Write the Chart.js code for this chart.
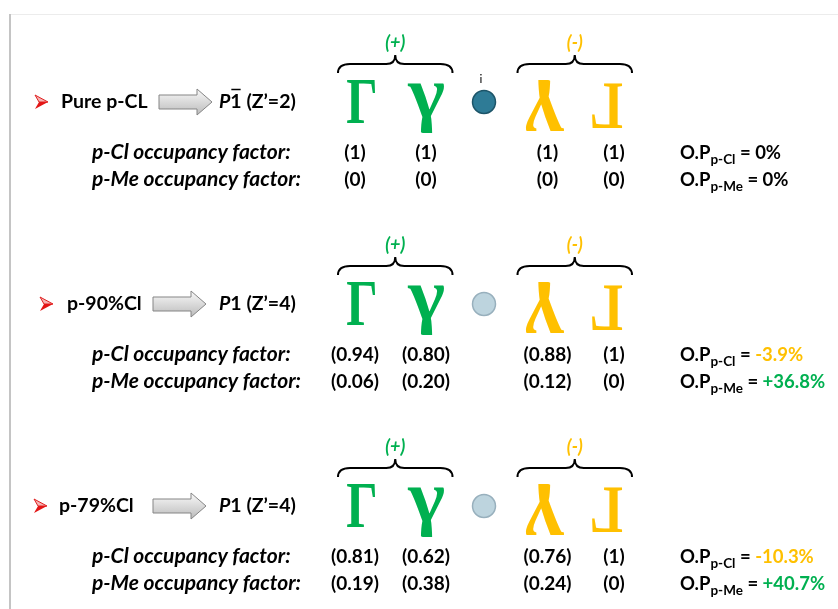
<!DOCTYPE html>
<html>
<head>
<meta charset="utf-8">
<script src="https://cdn.jsdelivr.net/npm/chart.js@4.4.1/dist/chart.umd.min.js"></script>
<style>
html, body { margin: 0; padding: 0; background: #fff; }
#wrap { width: 838px; height: 609px; }
</style>
</head>
<body>
<div id="wrap"><canvas id="fig" width="838" height="609"></canvas></div>
<script>
// samples, top to bottom
const samples = ['Pure p-CL', 'p-90%Cl', 'p-79%Cl'];
const spaceGroups = ['P1', 'P1', 'P1'];
const centrosymmetric = [true, false, false];
const zPrime = [2, 4, 4];

// the four molecules: glyph and whether it is drawn upside down
const siteGlyphs = ['Γ', 'γ', 'γ', 'Γ'];
const siteInverted = [false, false, true, true];
const siteSlots = [0, 1, 3, 4];   // slot 2 = inversion centre
const centreSlot = 2;
const groupSigns = ['(+)', '(-)'];

const pClOccupancy = [
  [1, 1, 1, 1],
  [0.94, 0.80, 0.88, 1],
  [0.81, 0.62, 0.76, 1]
];
const pMeOccupancy = [
  [0, 0, 0, 0],
  [0.06, 0.20, 0.12, 0],
  [0.19, 0.38, 0.24, 0]
];
const opPCl = [0, -3.9, -10.3];
const opPMe = [0, 36.8, 40.7];

// ---- look ----
const GREEN = '#00b050';
const YELLOW = '#ffc000';
const SANS = 'Lato, "Open Sans", sans-serif';
const arrowX = [35, 40, 34];
const nameX = [61, 67, 59];
const blockX = [159, 153, 153];
// glyph boxes relative to slot / row centre: dx, dy, w, h
const glyphBox = [[4, 0.5, 28, 43], [5.5, 6, 38, 50], [-2.5, 2.5, 40, 51], [-4, 3.5, 30, 45]];
const glyphFont = ['bold 60px "Liberation Serif", serif', 'bold 60px "Liberation Serif", serif'];
const valueNudge = [-2, 5.5, 0, 3];

function fmtOcc(v) {
  return '(' + (v === 0 || v === 1 ? String(v) : v.toFixed(2)) + ')';
}
function fmtOP(v) {
  if (v === 0) return { t: '0%', c: '#000' };
  return v < 0 ? { t: v.toFixed(1) + '%', c: YELLOW } : { t: '+' + v.toFixed(1) + '%', c: GREEN };
}

function drawGlyph(ctx, ch, font, color, cx, cy, w, h, inverted) {
  ctx.save();
  ctx.font = font;
  ctx.textAlign = 'left';
  ctx.textBaseline = 'alphabetic';
  const m = ctx.measureText(ch);
  const gw = m.actualBoundingBoxLeft + m.actualBoundingBoxRight;
  const gh = m.actualBoundingBoxAscent + m.actualBoundingBoxDescent;
  ctx.translate(cx, cy);
  if (inverted) ctx.rotate(Math.PI);
  ctx.scale(w / gw, h / gh);
  ctx.fillStyle = color;
  ctx.fillText(ch, -(m.actualBoundingBoxRight - m.actualBoundingBoxLeft) / 2,
    (m.actualBoundingBoxAscent - m.actualBoundingBoxDescent) / 2);
  ctx.restore();
}

function runs(ctx, x, y, list) {
  list.forEach(r => {
    ctx.font = r.font;
    ctx.fillStyle = r.color || '#000';
    ctx.fillText(r.text, x, y + (r.dy || 0));
    x += ctx.measureText(r.text).width;
  });
  return x;
}

function brace(ctx, x0, x1, cy) {
  const yEnd = cy - 29, yArm = cy - 38, yTip = cy - 47, xm = (x0 + x1) / 2;
  ctx.beginPath();
  ctx.moveTo(x0, yEnd);
  ctx.quadraticCurveTo(x0, yArm, x0 + 12, yArm);
  ctx.lineTo(xm - 9, yArm);
  ctx.quadraticCurveTo(xm, yArm, xm, yTip);
  ctx.quadraticCurveTo(xm, yArm, xm + 9, yArm);
  ctx.lineTo(x1 - 12, yArm);
  ctx.quadraticCurveTo(x1, yArm, x1, yEnd);
  ctx.strokeStyle = '#000';
  ctx.lineWidth = 2;
  ctx.stroke();
}

function redHead(ctx, x, cy) {
  ctx.beginPath();
  ctx.moveTo(x, cy - 7); ctx.lineTo(x + 13, cy); ctx.lineTo(x + 4, cy); ctx.closePath();
  ctx.fillStyle = '#f6b3b3'; ctx.fill();
  ctx.strokeStyle = '#e02020'; ctx.lineWidth = 1; ctx.stroke();
  ctx.beginPath();
  ctx.moveTo(x, cy + 7); ctx.lineTo(x + 13, cy); ctx.lineTo(x + 4, cy); ctx.closePath();
  ctx.fillStyle = '#e31515'; ctx.fill();
}

function blockArrow(ctx, x, cy) {
  const g = ctx.createLinearGradient(0, cy - 12, 0, cy + 12);
  g.addColorStop(0, '#f7f7f7'); g.addColorStop(1, '#bdbdbd');
  ctx.beginPath();
  ctx.moveTo(x, cy - 7); ctx.lineTo(x + 38, cy - 7); ctx.lineTo(x + 38, cy - 13);
  ctx.lineTo(x + 53, cy); ctx.lineTo(x + 38, cy + 13); ctx.lineTo(x + 38, cy + 7);
  ctx.lineTo(x, cy + 7); ctx.closePath();
  ctx.fillStyle = g; ctx.fill();
  ctx.strokeStyle = '#858585'; ctx.lineWidth = 1; ctx.stroke();
}

const figurePlugin = {
  id: 'figure',
  beforeDatasetsDraw(chart) {
    const ctx = chart.ctx;
    ctx.save();
    ctx.strokeStyle = '#ececec'; ctx.lineWidth = 1;
    ctx.beginPath(); ctx.moveTo(10, 14.5); ctx.lineTo(838, 14.5); ctx.stroke();
    ctx.strokeStyle = '#c4c4c4'; ctx.lineWidth = 2;
    ctx.beginPath(); ctx.moveTo(10, 14); ctx.lineTo(10, 609); ctx.stroke();
    ctx.restore();
  },
  afterDatasetsDraw(chart) {
    const ctx = chart.ctx, xs = chart.scales.x, ys = chart.scales.y;
    ctx.save();
    ctx.textBaseline = 'alphabetic';
    samples.forEach((name, r) => {
      const cy = ys.getPixelForValue(r);
      // left: sample -> space group
      redHead(ctx, arrowX[r], cy);
      ctx.textAlign = 'left';
      ctx.font = 'bold 19.5px ' + SANS; ctx.fillStyle = '#000';
      ctx.fillText(name, nameX[r], cy + 6);
      blockArrow(ctx, blockX[r], cy);
      ctx.fillStyle = '#000';
      ctx.font = 'italic bold 19.5px ' + SANS;
      const p = spaceGroups[r][0];
      ctx.fillText(p, 219, cy + 6);
      const x1 = 219 + ctx.measureText(p).width;
      ctx.font = 'bold 19.5px ' + SANS;
      const one = spaceGroups[r].slice(1);
      ctx.fillText(one, x1, cy + 6);
      const x2 = x1 + ctx.measureText(one).width;
      if (centrosymmetric[r]) {
        ctx.beginPath(); ctx.moveTo(x1 + 1, cy - 12.5); ctx.lineTo(x2 - 1, cy - 12.5);
        ctx.strokeStyle = '#000'; ctx.lineWidth = 1.5; ctx.stroke();
      }
      ctx.fillText(' (Z\u2019=' + zPrime[r] + ')', x2, cy + 6);

      // braces and signs
      const px = s => xs.getPixelForValue(s);
      brace(ctx, px(0) - 19, px(1) + 32, cy);
      brace(ctx, px(3) - 30, px(4) + 21, cy);
      ctx.textAlign = 'center';
      ctx.font = 'italic bold 18px ' + SANS;
      ctx.fillStyle = GREEN;
      ctx.fillText(groupSigns[0], (px(0) - 19 + px(1) + 32) / 2, cy - 53);
      ctx.fillStyle = YELLOW;
      ctx.fillText(groupSigns[1], (px(3) - 30 + px(4) + 21) / 2, cy - 53);

      // molecules
      siteGlyphs.forEach((g, k) => {
        const b = glyphBox[k];
        drawGlyph(ctx, g, glyphFont[g === 'Γ' ? 0 : 1], siteInverted[k] ? YELLOW : GREEN,
          px(siteSlots[k]) + b[0], cy + b[1], b[2], b[3], siteInverted[k]);
      });
      if (centrosymmetric[r]) {
        ctx.font = '12px ' + SANS; ctx.fillStyle = '#000'; ctx.textAlign = 'center';
        ctx.fillText('i', px(centreSlot) - 3, cy - 19);
      }

      // occupancy rows
      ctx.textAlign = 'left'; ctx.fillStyle = '#000';
      ctx.font = 'italic bold 21px ' + SANS;
      ctx.fillText('p-Cl occupancy factor:', 92, cy + 57);
      ctx.fillText('p-Me occupancy factor:', 92, cy + 84);
      ctx.textAlign = 'center';
      ctx.font = 'bold 19px ' + SANS;
      siteSlots.forEach((s, k) => {
        ctx.fillText(fmtOcc(pClOccupancy[r][k]), px(s) + valueNudge[k], cy + 57);
        ctx.fillText(fmtOcc(pMeOccupancy[r][k]), px(s) + valueNudge[k], cy + 84);
      });

      // order parameters
      ctx.textAlign = 'left';
      const big = 'bold 18.5px ' + SANS, sub = 'bold 13.5px ' + SANS;
      const a = fmtOP(opPCl[r]), b = fmtOP(opPMe[r]);
      runs(ctx, 680, cy + 57, [
        { text: 'O.P', font: big }, { text: 'p-Cl', font: sub, dy: 5 },
        { text: ' = ', font: big }, { text: a.t, font: big, color: a.c }]);
      runs(ctx, 680, cy + 84, [
        { text: 'O.P', font: big }, { text: 'p-Me', font: sub, dy: 5 },
        { text: ' = ', font: big }, { text: b.t, font: big, color: b.c }]);
    });
    ctx.restore();
  }
};

new Chart(document.getElementById('fig'), {
  type: 'scatter',
  data: {
    datasets: [{
      label: 'inversion centre',
      data: samples.map((s, i) => ({ x: centreSlot, y: i })),
      pointRadius: 11.5,
      pointHoverRadius: 11.5,
      pointBackgroundColor: centrosymmetric.map(c => c ? '#2e7b96' : '#bdd4de'),
      pointBorderColor: centrosymmetric.map(c => c ? '#1d5569' : '#98b0bd'),
      pointBorderWidth: 1.5,
      clip: false
    }]
  },
  options: {
    responsive: false,
    animation: false,
    devicePixelRatio: 1,
    events: [],
    layout: { padding: 0, autoPadding: false },
    plugins: { legend: { display: false }, tooltip: { enabled: false } },
    scales: {
      x: { type: 'linear', display: false, min: -357 / 63.5, max: (838 - 357) / 63.5 },
      y: { type: 'linear', display: false, reverse: true, min: -102 / 202, max: (609 - 102) / 202 }
    }
  },
  plugins: [figurePlugin]
});
</script>
</body>
</html>
